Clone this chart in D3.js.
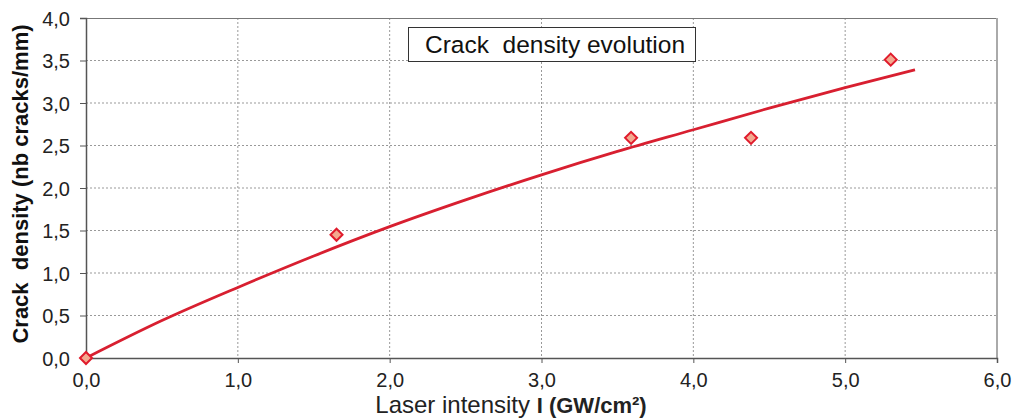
<!DOCTYPE html>
<html lang="en">
<head>
    <meta charset="UTF-8">
    <script src="https://d3js.org/d3.v7.min.js"></script>
    <title>Crack density evolution</title>
    <style>
        body { margin: 0; background: #fff; }
        svg { font-family: Arial, "Liberation Sans", sans-serif; }
    </style>
</head>
<body>
    <div id="chart"></div>
    <script>
        // Measured points
        const intensity = [0, 1.65, 3.59, 4.38, 5.30];
        const density = [0, 1.45, 2.59, 2.59, 3.51];

        // Trend line
        const fitX = [0, 0.5, 1.0, 1.5, 2.0, 2.5, 3.0, 3.5, 4.0, 4.5, 5.0, 5.46];
        const fitY = [0, 0.44, 0.83, 1.20, 1.545, 1.86, 2.155, 2.43, 2.685, 2.94, 3.18, 3.39];

        const xTicks = [0, 1, 2, 3, 4, 5, 6];
        const yTicks = [0, 0.5, 1, 1.5, 2, 2.5, 3, 3.5, 4];

        const W = 1014, H = 419;
        const margin = { top: 18, right: 17, bottom: 61, left: 86 };
        const width = W - margin.left - margin.right;
        const height = H - margin.top - margin.bottom;

        const fmt = d => d3.format(".1f")(d).replace(".", ",");

        const svg = d3.select("#chart").append("svg")
            .attr("width", W)
            .attr("height", H);

        const g = svg.append("g")
            .attr("transform", `translate(${margin.left},${margin.top})`);

        const x = d3.scaleLinear().domain([0, 6]).range([0, width]);
        const y = d3.scaleLinear().domain([0, 4]).range([height, 0]);

        // Grid
        g.append("g").selectAll("line")
            .data(xTicks.slice(1, -1))
            .join("line")
            .attr("x1", d => x(d)).attr("x2", d => x(d))
            .attr("y1", 0).attr("y2", height)
            .attr("stroke", "#999").attr("stroke-dasharray", "2,2");
        g.append("g").selectAll("line")
            .data(yTicks.slice(1, -1))
            .join("line")
            .attr("x1", 0).attr("x2", width)
            .attr("y1", d => y(d)).attr("y2", d => y(d))
            .attr("stroke", "#999").attr("stroke-dasharray", "2,2");

        // Frame: top and right lighter
        g.append("line").attr("x1", 0).attr("x2", width).attr("y1", 0.5).attr("y2", 0.5)
            .attr("stroke", "#777");
        g.append("line").attr("x1", width).attr("x2", width).attr("y1", 0).attr("y2", height)
            .attr("stroke", "#aaa").attr("stroke-width", 2);

        // Axes
        const xAxis = g.append("g")
            .attr("transform", `translate(0,${height})`)
            .call(d3.axisBottom(x).tickValues(xTicks).tickFormat(fmt).tickSize(5).tickPadding(10));
        const yAxis = g.append("g")
            .call(d3.axisLeft(y).tickValues(yTicks).tickFormat(fmt).tickSize(6).tickPadding(10));

        [xAxis, yAxis].forEach(a => {
            a.select(".domain").attr("stroke", "#555").attr("stroke-width", 1.5);
            a.selectAll(".tick line").attr("stroke", "#555");
            a.selectAll(".tick text").attr("fill", "#222").style("font-size", "20px");
        });
        yAxis.selectAll(".tick text").attr("dy", "0.36em");

        // Trend line
        const fit = fitX.map((d, i) => [d, fitY[i]]);
        g.append("path")
            .datum(fit)
            .attr("fill", "none")
            .attr("stroke", "#d81f30")
            .attr("stroke-width", 2.8)
            .attr("d", d3.line().x(d => x(d[0])).y(d => y(d[1])).curve(d3.curveMonotoneX));

        // Markers
        const pts = intensity.map((d, i) => [d, density[i]]);
        g.selectAll(".pt")
            .data(pts)
            .join("path")
            .attr("class", "pt")
            .attr("transform", d => `translate(${x(d[0])},${y(d[1])})`)
            .attr("d", "M0,-6L6,0L0,6L-6,0Z")
            .attr("fill", "#f3a98f")
            .attr("stroke", "#e01b2c")
            .attr("stroke-width", 2);

        // Title box
        const tb = g.append("g").attr("transform", `translate(${408 - margin.left},${27 - margin.top})`);
        tb.append("rect")
            .attr("x", 0.5).attr("y", 0.5)
            .attr("width", 287).attr("height", 34)
            .attr("fill", "#fff").attr("stroke", "#333").attr("stroke-width", 1);
        tb.append("text")
            .attr("x", 147).attr("y", 26)
            .attr("text-anchor", "middle")
            .style("font-size", "24.5px")
            .attr("fill", "#111")
            .attr("xml:space", "preserve")
            .text("Crack  density evolution");

        // Axis titles
        const xl = svg.append("text")
            .attr("x", 511).attr("y", 413)
            .attr("text-anchor", "middle")
            .attr("fill", "#222");
        xl.append("tspan").style("font-size", "24px").text("Laser intensity ");
        xl.append("tspan").style("font-size", "22px").style("font-weight", "bold").text("I (GW/cm²)");

        svg.append("text")
            .attr("transform", "translate(28,184) rotate(-90)")
            .attr("text-anchor", "middle")
            .style("font-size", "22px")
            .style("font-weight", "bold")
            .attr("fill", "#111")
            .attr("xml:space", "preserve")
            .text("Crack  density (nb cracks/mm)");
    </script>
</body>
</html>
